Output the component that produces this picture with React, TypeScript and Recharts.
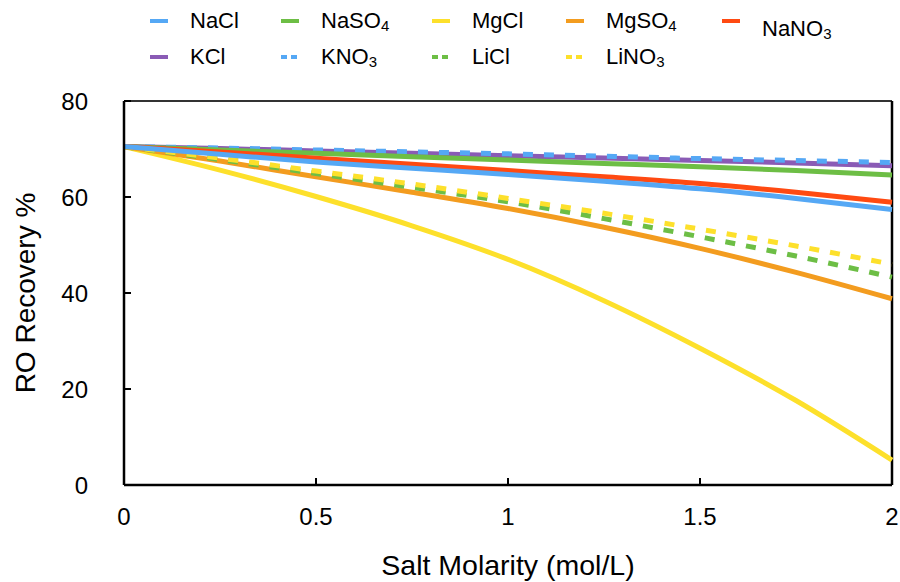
import { LineChart, Line, XAxis, YAxis, ReferenceLine, Label } from "recharts";

// molarity (mol/L)
const molarity = [0, 0.25, 0.5, 0.75, 1, 1.25, 1.5, 1.75, 2];

// RO recovery % per salt
const naCl = [70.5, 68.9, 67.3, 66.0, 64.7, 63.3, 61.7, 59.7, 57.4];
const naSO4 = [70.5, 69.8, 69.1, 68.4, 67.7, 67.0, 66.3, 65.5, 64.6];
const mgCl = [70.5, 65.6, 60.1, 54.0, 47.0, 38.4, 28.5, 17.6, 5.2];
const mgSO4 = [70.5, 67.5, 64.2, 61.0, 57.6, 53.7, 49.3, 44.3, 38.8];
const naNO3 = [70.5, 69.4, 68.1, 66.8, 65.5, 64.2, 62.8, 61.0, 58.9];
const kCl = [70.5, 70.1, 69.6, 69.1, 68.6, 68.1, 67.6, 67.1, 66.5];
const kNO3 = [70.5, 70.2, 69.8, 69.4, 69.0, 68.5, 68.0, 67.6, 67.2];
const liCl = [70.5, 67.8, 64.9, 62.0, 59.0, 55.5, 51.7, 47.7, 43.3];
const liNO3 = [70.5, 68.1, 65.4, 62.7, 59.7, 56.6, 53.3, 49.8, 46.0];

const xTicks = [0, 0.5, 1, 1.5, 2];
const yTicks = [0, 20, 40, 60, 80];

// legend order (row by row), draw order is separate
const series = [
  { key: "NaCl", name: "NaCl", sub: "", values: naCl, color: "#55a8f5", dashed: false },
  { key: "NaSO4", name: "NaSO", sub: "4", values: naSO4, color: "#6dbe45", dashed: false },
  { key: "MgCl", name: "MgCl", sub: "", values: mgCl, color: "#fde02b", dashed: false },
  { key: "MgSO4", name: "MgSO", sub: "4", values: mgSO4, color: "#f39c1f", dashed: false },
  { key: "NaNO3", name: "NaNO", sub: "3", values: naNO3, color: "#ff4a12", dashed: false },
  { key: "KCl", name: "KCl", sub: "", values: kCl, color: "#8a5bb5", dashed: false },
  { key: "KNO3", name: "KNO", sub: "3", values: kNO3, color: "#55a8f5", dashed: true },
  { key: "LiCl", name: "LiCl", sub: "", values: liCl, color: "#6dbe45", dashed: true },
  { key: "LiNO3", name: "LiNO", sub: "3", values: liNO3, color: "#fde02b", dashed: true },
];

const drawOrder = ["KCl", "KNO3", "NaSO4", "MgCl", "MgSO4", "LiCl", "LiNO3", "NaNO3", "NaCl"];

const data = molarity.map((m, i) => {
  const row: Record<string, number> = { x: m };
  series.forEach((s) => (row[s.key] = s.values[i]));
  return row;
});

const FONT = '"Liberation Sans", Arial, Helvetica, sans-serif';

function ChartLegend() {
  return (
    <div
      style={{
        position: "absolute",
        left: 150,
        top: 8,
        display: "grid",
        gridTemplateColumns: "131px 151px 134px 156px 140px",
        rowGap: 2,
        fontFamily: FONT,
        fontSize: 22,
        color: "#000",
      }}
    >
      {series.map((s) => (
        <div
          key={s.key}
          style={{
            display: "flex",
            alignItems: "center",
            height: 26,
            marginTop: s.key === "NaNO3" ? 8 : 0,
          }}
        >
          <svg width={18} height={6} style={{ marginRight: 22, marginTop: s.key === "NaNO3" ? -16 : 0 }}>
            <line
              x1={0}
              y1={3}
              x2={18}
              y2={3}
              stroke={s.color}
              strokeWidth={4}
              strokeDasharray={s.dashed ? "6 4" : undefined}
            />
          </svg>
          <span>
            {s.name}
            {s.sub && <sub style={{ fontSize: 15, verticalAlign: "-3px" }}>{s.sub}</sub>}
          </span>
        </div>
      ))}
    </div>
  );
}

export default function App() {
  const tickStyle = { fontFamily: FONT, fontSize: 24, fill: "#000" };
  return (
    <div style={{ position: "absolute", left: 0, top: 0, width: 900, height: 582, background: "#fff" }}>
      <ChartLegend />
      <LineChart
        width={900}
        height={582}
        data={data}
        margin={{ top: 101, right: 8, bottom: 0, left: 0 }}
      >
        <XAxis
          type="number"
          dataKey="x"
          domain={[0, 2]}
          ticks={xTicks}
          height={97}
          tickSize={-7}
          tickMargin={30}
          axisLine={{ stroke: "#000", strokeWidth: 2.5 }}
          tickLine={{ stroke: "#000", strokeWidth: 2 }}
          tick={tickStyle}
        >
          <Label
            value="Salt Molarity (mol/L)"
            position="insideBottom"
            offset={7}
            style={{ fontFamily: FONT, fontSize: 28.5, fill: "#000" }}
          />
        </XAxis>
        <YAxis
          type="number"
          domain={[0, 80]}
          ticks={yTicks}
          width={124}
          tickSize={-7}
          tickMargin={43}
          axisLine={{ stroke: "#000", strokeWidth: 2.5 }}
          tickLine={{ stroke: "#000", strokeWidth: 2 }}
          tick={tickStyle}
        >
          <Label
            content={({ viewBox }: any) => {
              const cx = viewBox.x + 25;
              const cy = viewBox.y + viewBox.height / 2;
              return (
                <text
                  x={cx}
                  y={cy}
                  transform={`rotate(-90, ${cx}, ${cy})`}
                  textAnchor="middle"
                  dominantBaseline="central"
                  style={{ fontFamily: FONT, fontSize: 28, fill: "#000" }}
                >
                  RO Recovery %
                </text>
              );
            }}
          />
        </YAxis>
        <ReferenceLine y={80} stroke="#333" strokeWidth={2} ifOverflow="extendDomain" />
        <ReferenceLine x={2} stroke="#000" strokeWidth={2.5} ifOverflow="extendDomain" />
        {drawOrder.map((k) => {
          const s = series.find((d) => d.key === k)!;
          return (
            <Line
              key={k}
              type="monotone"
              dataKey={k}
              stroke={s.color}
              strokeWidth={5}
              strokeDasharray={s.dashed ? "10 11" : undefined}
              dot={false}
              isAnimationActive={false}
            />
          );
        })}
      </LineChart>
    </div>
  );
}
